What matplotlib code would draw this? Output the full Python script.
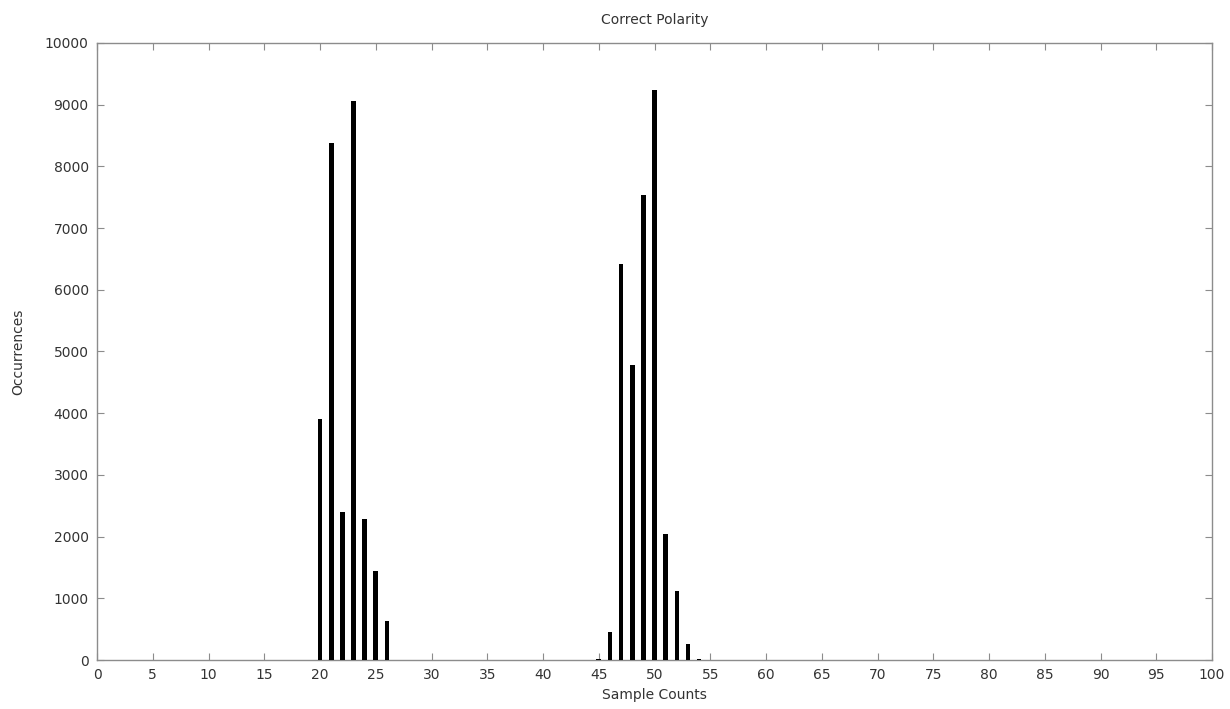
import numpy as np
import matplotlib.pyplot as plt

# sample counts and how often each occurred
counts = [20, 21, 22, 23, 24, 25, 26, 45, 46, 47, 48, 49, 50, 51, 52, 53, 54]
occurrences = [3910, 8385, 2395, 9060, 2285, 1450, 630,
               20, 460, 6410, 4780, 7530, 9240, 2045, 1125, 260, 20]

x_ticks = np.arange(0, 101, 5)
y_ticks = np.arange(0, 10001, 1000)

fig = plt.figure(figsize=(12.3, 7.09), dpi=100)
ax = fig.add_axes([0.0789, 0.0691, 0.9065, 0.8703])
ax.set_axisbelow(True)

ax.bar(counts, occurrences, width=0.42, color='black', linewidth=0, zorder=3)

ax.set_xlim(0, 100)
ax.set_ylim(0, 10000)
ax.set_xticks(x_ticks)
ax.set_yticks(y_ticks)

frame = '#8c8c8c'
for sp in ax.spines.values():
    sp.set_color(frame)
    sp.set_linewidth(1.0)
ax.tick_params(direction='in', length=5, width=0.8, color=frame,
               top=True, right=True, labelsize=10, labelcolor='#333333', pad=6)

ax.set_title('Correct Polarity', fontsize=10, color='#333333', pad=14)
ax.set_xlabel('Sample Counts', fontsize=10, color='#333333', labelpad=4)
ax.set_ylabel('Occurrences', fontsize=10, color='#333333', labelpad=14)

fig.savefig('out.png', dpi=100)
